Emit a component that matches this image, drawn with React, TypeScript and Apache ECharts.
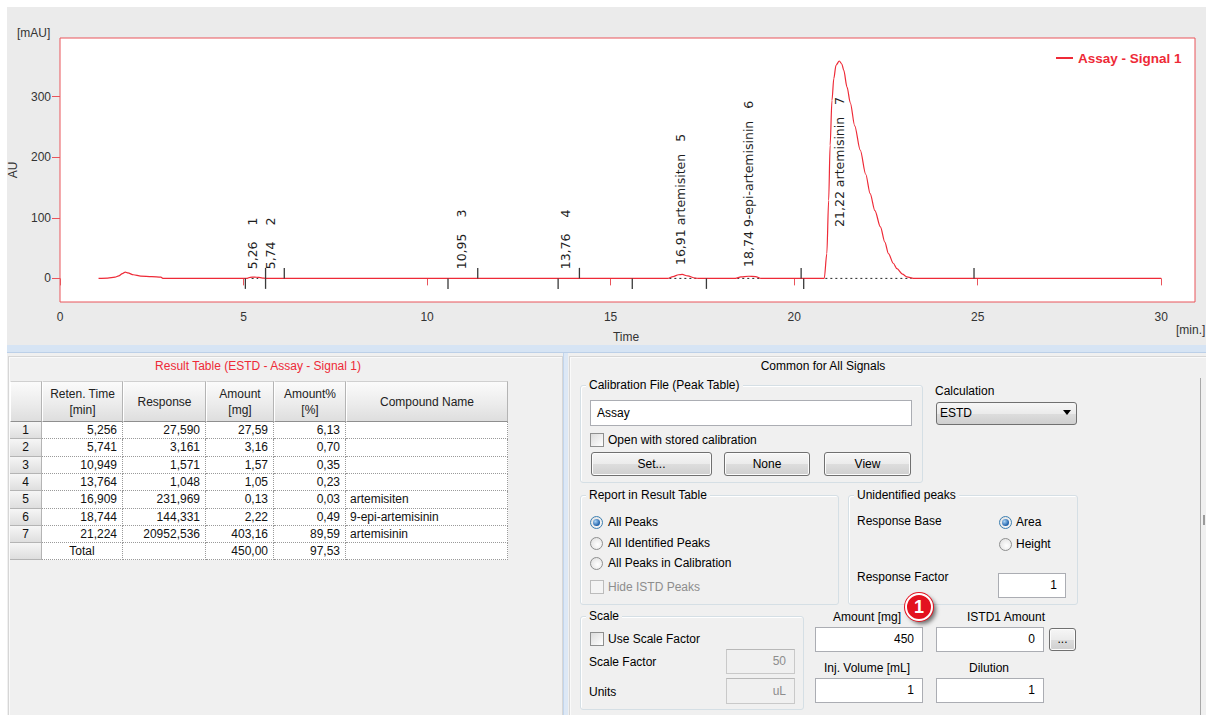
import React, { useEffect, useRef } from "react";
import * as echarts from "echarts";

// ---------- chart data ----------
const signalTime = [1.05, 1.3, 1.5, 1.6, 1.7, 1.78, 1.85, 2.0, 2.2, 2.5, 2.75, 2.8, 3.2,
  5.1, 5.18, 5.3, 5.42, 5.55, 5.65,
  16.55, 16.7, 16.85, 16.95, 17.1, 17.3, 17.4,
  18.4, 18.55, 18.75, 18.95, 19.1,
  20.82, 20.89, 20.94, 20.98, 21.03, 21.08, 21.14, 21.23, 21.3, 21.35, 21.44, 21.53, 21.65, 21.8, 21.95,
  22.07, 22.2, 22.35, 22.47, 22.57, 22.7, 22.8, 22.95, 23.07, 23.25, 30.0];
const signalMAU = [0, 0.5, 2, 4, 8, 10.5, 9, 6, 3.8, 2.8, 2, 0, 0,
  0, 1.8, 2.2, 1.6, 0.3, 0,
  0, 3, 6, 6.5, 4, 0.5, 0,
  0, 2.5, 3.5, 3, 0,
  0, 41, 129, 220, 294, 330, 352, 359, 354, 344, 316, 290, 252, 212, 172,
  140, 112, 85, 60, 41, 25, 16, 7, 2.6, 0, 0];

const xTicks = [0, 5, 10, 15, 20, 25, 30];
const yTicks = [0, 100, 200, 300];

const peakNo = [1, 2, 3, 4, 5, 6, 7];
const retTime = [5.256, 5.741, 10.949, 13.764, 16.909, 18.744, 21.224];
const response = [27.59, 3.161, 1.571, 1.048, 231.969, 144.331, 20952.536];
const amount = [27.59, 3.16, 1.57, 1.05, 0.13, 2.22, 403.16];
const amountPct = [6.13, 0.7, 0.35, 0.23, 0.03, 0.49, 89.59];
const compound = ["", "", "", "", "artemisiten", "9-epi-artemisinin", "artemisinin"];
const totalAmount = 450.0;
const totalPct = 97.53;

// label anchor level (mAU) for each peak label
const labelLevel = [15, 15, 15, 15, 22, 19, 85];
// peak start / end markers (min)
const peakStarts = [5.05, 5.6, 10.57, 13.57, 15.59, 17.61, 20.26];
const peakEnds = [5.6, 6.11, 11.38, 14.15, 20.19, 24.9];
// dotted baselines [from, to] (min)
const baseFrom = [5.22, 16.6, 18.45, 20.85];
const baseTo = [5.4, 17.35, 19.05, 23.2];

const fmt = (n: number, d: number) => n.toFixed(d).replace(".", ",");

const RED = "#ee2a37";
const FRAME = "#e9545b";
const FONT = '"Liberation Sans", Arial, sans-serif';

function Chart() {
  const ref = useRef<HTMLDivElement>(null);
  useEffect(() => {
    const chart = echarts.init(ref.current!, null, { renderer: "svg" });
    const labelTexts = peakNo.map((n, i) => `${fmt(retTime[i], 2)} ${compound[i]}   ${n}`);
    const option: any = {
      animation: false,
      backgroundColor: "transparent",
      textStyle: { fontFamily: FONT },
      grid: { left: 53, top: 31, width: 1135, height: 264, show: true, backgroundColor: "#ffffff", borderColor: FRAME, borderWidth: 1 },
      legend: {
        left: 1049, top: 44, padding: 0,
        itemWidth: 17, itemHeight: 2, icon: "rect",
        data: [{ name: "Assay - Signal 1", itemStyle: { color: RED } }],
        textStyle: { color: RED, fontWeight: "bold", fontSize: 13.5, fontFamily: FONT },
      },
      xAxis: {
        type: "value", min: 0, max: 30.92,
        axisLine: { show: false },
        splitLine: { show: false },
        axisTick: { show: true, length: 7, lineStyle: { color: FRAME }, customValues: xTicks },
        axisLabel: { color: "#333", fontSize: 12, margin: 9, customValues: xTicks },
      },
      yAxis: {
        type: "value", min: -39, max: 397,
        axisLine: { show: false },
        splitLine: { show: false },
        axisTick: { show: true, length: 8, lineStyle: { color: FRAME }, customValues: yTicks },
        axisLabel: { color: "#333", fontSize: 12, margin: 9, customValues: yTicks },
      },
      graphic: [
        { type: "text", x: 10, y: 26, style: { text: "[mAU]", fill: "#333", font: `12px ${FONT}`, align: "left", verticalAlign: "middle" } },
        { type: "text", x: 6, y: 163, rotation: Math.PI / 2, style: { text: "AU", fill: "#333", font: `12px ${FONT}`, align: "center", verticalAlign: "middle" } },
        { type: "text", x: 619, y: 330, style: { text: "Time", fill: "#333", font: `12px ${FONT}`, align: "center", verticalAlign: "middle" } },
        { type: "text", x: 1169, y: 323, style: { text: "[min.]", fill: "#333", font: `12px ${FONT}`, align: "left", verticalAlign: "middle" } },
      ],
      series: [
        {
          type: "custom", name: "baseline", coordinateSystem: "cartesian2d", silent: true, z: 1,
          encode: { x: 0, y: 1 },
          data: baseFrom.map((a, i) => [a, 0, baseTo[i]]),
          renderItem: (params: any, api: any) => {
            const p1 = api.coord([api.value(0), 0]);
            const p2 = api.coord([api.value(2), 0]);
            return { type: "line", shape: { x1: p1[0], y1: p1[1], x2: p2[0], y2: p2[1] }, style: { stroke: "#222", lineWidth: 1, lineDash: [2, 3] } };
          },
        },
        {
          type: "line", name: "Assay - Signal 1", z: 2,
          data: signalTime.map((t, i) => [t, signalMAU[i]]),
          showSymbol: false, symbol: "none",
          smooth: 0.3, smoothMonotone: "x",
          lineStyle: { color: RED, width: 1.2 },
          itemStyle: { color: RED },
        },
        {
          type: "custom", name: "markers", coordinateSystem: "cartesian2d", silent: true, z: 3,
          encode: { x: 0, y: 1 },
          data: [...peakStarts.map((t) => [t, 0, -1]), ...peakEnds.map((t) => [t, 0, 1])],
          renderItem: (params: any, api: any) => {
            const p = api.coord([api.value(0), 0]);
            const dir = api.value(2);
            return { type: "line", shape: { x1: p[0], y1: p[1], x2: p[0], y2: p[1] - dir * 10.5 }, style: { stroke: "#3a3a3a", lineWidth: 1.3 } };
          },
        },
        {
          type: "custom", name: "labels", coordinateSystem: "cartesian2d", silent: true, z: 4,
          encode: { x: 0, y: 1 },
          data: retTime.map((t, i) => [t, labelLevel[i], i]),
          renderItem: (params: any, api: any) => {
            const p = api.coord([api.value(0), api.value(1)]);
            const i = api.value(2);
            return {
              type: "text", x: p[0], y: p[1], rotation: Math.PI / 2,
              style: { text: labelTexts[i], fill: "#1e1e1e", font: '12.5px "DejaVu Sans", sans-serif', align: "left", verticalAlign: "middle" },
            };
          },
        },
      ],
    };
    chart.setOption(option);
    return () => chart.dispose();
  }, []);
  return <div ref={ref} style={{ position: "absolute", left: 7, top: 7, width: 1199, height: 338, background: "#ebebeb" }} />;
}

// ---------- UI helpers ----------
const abs = (x: number, y: number, w?: number, h?: number): React.CSSProperties => ({
  position: "absolute", left: x, top: y, width: w, height: h, boxSizing: "border-box",
});

function L({ x, y, text, color, center, w }: { x: number; y: number; text: string; color?: string; center?: boolean; w?: number }) {
  if (center) {
    const ww = w || 200;
    return <div style={{ ...abs(x - ww / 2, y - 8, ww, 16), lineHeight: "16px", textAlign: "center", whiteSpace: "nowrap", color: color || "#000" }}>{text}</div>;
  }
  return <div style={{ ...abs(x, y - 8, undefined, 16), lineHeight: "16px", whiteSpace: "nowrap", color: color || "#000" }}>{text}</div>;
}

function GroupBox({ x, y, w, h, title }: { x: number; y: number; w: number; h: number; title: string }) {
  return (
    <>
      <div style={{ ...abs(x, y, w, h), border: "1px solid #d5dfe5", borderRadius: 3, boxShadow: "inset 1px 1px 0 #ffffff" }} />
      <div style={{ ...abs(x + 6, y - 8, undefined, 16), lineHeight: "16px", padding: "0 3px", background: "#f0f0f0", whiteSpace: "nowrap" }}>{title}</div>
    </>
  );
}

function TextBox({ x, y, w, h, value, disabled, left }: { x: number; y: number; w: number; h: number; value: string; disabled?: boolean; left?: boolean }) {
  return (
    <div style={{
      ...abs(x, y, w, h), border: `1px solid ${disabled ? "#c9c9c9" : "#abadb3"}`, borderTopColor: disabled ? "#b8b8b8" : "#abadb3",
      background: disabled ? "#f0f0f0" : "#ffffff", color: disabled ? "#8d8d8d" : "#000",
      lineHeight: `${h - 2}px`, textAlign: left ? "left" : "right", padding: left ? "0 0 0 6px" : "0 8px 0 0", whiteSpace: "nowrap",
    }}>{value}</div>
  );
}

function Btn({ x, y, w, h, label }: { x: number; y: number; w: number; h: number; label: string }) {
  return (
    <div style={{
      ...abs(x, y, w, h), border: "1px solid #707070", borderRadius: 3,
      background: "linear-gradient(#f6f6f6, #ebebeb 50%, #dddddd 51%, #cfcfcf)",
      boxShadow: "inset 0 0 0 1px #fcfcfc", textAlign: "center", lineHeight: `${h - 2}px`,
    }}>{label}</div>
  );
}

function Radio({ cx, cy, checked, label, lx }: { cx: number; cy: number; checked?: boolean; label: string; lx: number }) {
  return (
    <>
      <div style={{ ...abs(cx - 6.5, cy - 6.5, 13, 13), borderRadius: "50%", border: `1px solid ${checked ? "#3c7fb1" : "#8e8f8f"}`, background: "radial-gradient(circle at 60% 60%, #ffffff, #dcdcdc)" }} />
      {checked && <div style={{ ...abs(cx - 3.5, cy - 3.5, 7, 7), borderRadius: "50%", background: "radial-gradient(circle at 35% 35%, #a9d4f7, #1d5fa8 70%)" }} />}
      <L x={lx} y={cy} text={label} />
    </>
  );
}

function Check({ x, y, s, label, lx, disabled }: { x: number; y: number; s: number; label: string; lx: number; disabled?: boolean }) {
  return (
    <>
      <div style={{ ...abs(x, y, s, s), border: `1px solid ${disabled ? "#bcbcbc" : "#8e8f8f"}`, background: disabled ? "#f4f4f4" : "linear-gradient(135deg, #dcdcdc, #ffffff)" }} />
      <L x={lx} y={y + s / 2} text={label} color={disabled ? "#8d8d8d" : "#000"} />
    </>
  );
}

// ---------- result table ----------
const cols = [
  { x: 10, w: 32 }, { x: 42, w: 81 }, { x: 123, w: 83 }, { x: 206, w: 68 }, { x: 274, w: 72 }, { x: 346, w: 162 },
];
const headers = [[""], ["Reten. Time", "[min]"], ["Response"], ["Amount", "[mg]"], ["Amount%", "[%]"], ["Compound Name"]];
const HEAD_Y = 381;
const HEAD_H = 41;
const ROW_H = 17.3;

function ResultTable() {
  const rows: string[][] = peakNo.map((n, i) => [
    String(n), fmt(retTime[i], 3), fmt(response[i], 3), fmt(amount[i], 2), fmt(amountPct[i], 2), compound[i],
  ]);
  rows.push(["", "Total", "", fmt(totalAmount, 2), fmt(totalPct, 2), ""]);
  const cells: React.ReactNode[] = [];
  headers.forEach((h, c) => {
    cells.push(
      <div key={`h${c}`} style={{
        ...abs(cols[c].x, HEAD_Y, cols[c].w, HEAD_H),
        background: "linear-gradient(#fbfbfb, #ececec 55%, #dedede)",
        borderRight: "1px solid #b4b4b4", borderBottom: "1px solid #8f8f8f", borderLeft: "1px solid #ffffff", borderTop: "1px solid #d0d0d0",
        display: "flex", flexDirection: "column", justifyContent: "center", alignItems: "center", lineHeight: "16px", color: "#222",
      }}>{h.map((t, k) => <div key={k}>{t}</div>)}</div>
    );
  });
  rows.forEach((r, ri) => {
    const y0 = Math.round(HEAD_Y + HEAD_H + ri * ROW_H);
    const y1 = Math.round(HEAD_Y + HEAD_H + (ri + 1) * ROW_H);
    const hh = y1 - y0;
    r.forEach((v, c) => {
      const isHead = c === 0;
      const isTotal = ri === rows.length - 1 && c === 1;
      cells.push(
        <div key={`r${ri}c${c}`} style={{
          ...abs(cols[c].x, y0, cols[c].w, hh),
          background: isHead ? "linear-gradient(#f6f6f6, #dedede)" : "#ffffff",
          borderRight: isHead ? "1px solid #b4b4b4" : "1px dotted #9a9a9a",
          borderBottom: isHead ? "1px solid #b4b4b4" : "1px dotted #9a9a9a",
          lineHeight: `${hh - 1}px`,
          textAlign: isHead || isTotal ? "center" : c === 5 ? "left" : "right",
          padding: c === 5 ? "0 0 0 4px" : isHead || isTotal ? 0 : "0 5px 0 0",
          whiteSpace: "nowrap", color: "#111",
        }}>{v}</div>
      );
    });
  });
  return <>{cells}</>;
}

export default function App() {
  useEffect(() => {
    document.body.style.margin = "0";
  }, []);
  return (
    <div style={{ position: "absolute", left: 0, top: 0, width: 1206, height: 715, background: "#ffffff", overflow: "hidden", fontFamily: FONT, fontSize: 12, color: "#000" }}>
      <Chart />
      {/* splitter band */}
      <div style={{ ...abs(7, 345, 1199, 8), background: "#d6e4f4", borderBottom: "1px solid #bcd0e8" }} />
      {/* lower area */}
      <div style={{ ...abs(7, 353, 1199, 362), background: "#f0f0f0" }} />
      {/* left panel */}
      <div style={{ ...abs(8, 356, 555, 360), border: "1px solid #d6d6d6", boxShadow: "inset 1px 1px 0 #fafafa" }} />
      <div style={{ ...abs(563, 353, 5, 362), background: "#dde8f5", borderLeft: "1px solid #c2d5ec" }} />
      <L x={258} y={366} text="Result Table (ESTD - Assay - Signal 1)" color="#ee2a37" center w={300} />
      <ResultTable />

      {/* right panel */}
      <div style={{ ...abs(569, 356, 640, 360), border: "1px solid #d6d6d6", boxShadow: "inset 1px 1px 0 #fafafa" }} />
      <L x={823} y={366} text="Common for All Signals" center />

      <GroupBox x={580} y={385} w={343} h={98} title="Calibration File (Peak Table)" />
      <TextBox x={590} y={400} w={322} h={26} value="Assay" left />
      <Check x={590} y={433} s={14} label="Open with stored calibration" lx={608} />
      <Btn x={591} y={452} w={121} h={24} label="Set..." />
      <Btn x={724} y={452} w={86} h={24} label="None" />
      <Btn x={824} y={452} w={87} h={24} label="View" />

      <L x={935} y={391} text="Calculation" />
      <div style={{ ...abs(936, 402, 141, 23), border: "1px solid #707070", borderRadius: 3, background: "linear-gradient(#f6f6f6, #ebebeb 50%, #dddddd 51%, #cfcfcf)", lineHeight: "21px", paddingLeft: 3 }}>ESTD</div>
      <div style={{ ...abs(1063, 410, 0, 0), borderLeft: "4px solid transparent", borderRight: "4px solid transparent", borderTop: "5px solid #000" }} />

      <GroupBox x={580} y={495} w={259} h={110} title="Report in Result Table" />
      <Radio cx={596} cy={522} checked label="All Peaks" lx={608} />
      <Radio cx={596} cy={543} label="All Identified Peaks" lx={608} />
      <Radio cx={596} cy={563} label="All Peaks in Calibration" lx={608} />
      <Check x={590} y={580} s={14} label="Hide ISTD Peaks" lx={608} disabled />

      <GroupBox x={848} y={495} w={230} h={110} title="Unidentified peaks" />
      <L x={857} y={521} text="Response Base" />
      <Radio cx={1005} cy={522} checked label="Area" lx={1016} />
      <Radio cx={1005} cy={544} label="Height" lx={1016} />
      <L x={857} y={577} text="Response Factor" />
      <TextBox x={998} y={573} w={68} h={25} value="1" />

      <GroupBox x={580} y={616} w={224} h={94} title="Scale" />
      <Check x={590} y={632} s={14} label="Use Scale Factor" lx={608} />
      <L x={589} y={662} text="Scale Factor" />
      <TextBox x={726} y={649} w={69} h={25} value="50" disabled />
      <L x={589} y={692} text="Units" />
      <TextBox x={726} y={678} w={69} h={26} value="uL" disabled />

      <L x={867} y={617} text="Amount [mg]" center />
      <TextBox x={815} y={627} w={108} h={25} value="450" />
      <L x={1006} y={617} text="ISTD1 Amount" center />
      <TextBox x={936} y={627} w={108} h={25} value="0" />
      <Btn x={1049} y={628} w={27} h={23} label="..." />
      <L x={867} y={668} text="Inj. Volume [mL]" center />
      <TextBox x={815} y={678} w={108} h={25} value="1" />
      <L x={989} y={668} text="Dilution" center />
      <TextBox x={936} y={678} w={108} h={25} value="1" />

      {/* annotation */}
      <div style={{
        ...abs(905, 593, 28, 28), borderRadius: "50%", background: "#e3121f", border: "2px solid #ffffff",
        boxShadow: "0 0 0 1px #e3121f, 3px 3px 4px rgba(0,0,0,0.55)", color: "#fff", fontWeight: "bold", fontSize: 18,
        textAlign: "center", lineHeight: "24px",
      }}>1</div>

      {/* scrollbar edge */}
      <div style={{ ...abs(1200, 378, 1, 337), background: "#a8a8a8" }} />
      <div style={{ ...abs(1203, 515, 2, 10), background: "#9a9a9a" }} />
    </div>
  );
}
